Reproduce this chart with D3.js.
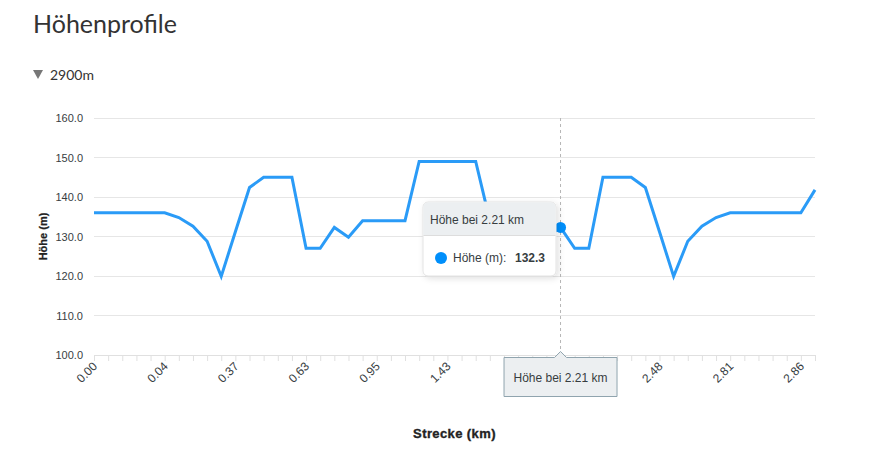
<!DOCTYPE html>
<html><head><meta charset="utf-8">
<script src="https://cdn.jsdelivr.net/npm/d3@7"></script>
<style>
html,body{margin:0;padding:0;background:#fff;}
svg{display:block;}
</style></head>
<body>
<svg id="chart" width="873" height="452"></svg>
<script>
// ---- data ----
const distances = ["0.00","0.01","0.02","0.03","0.03","0.04","0.10","0.17","0.24","0.30",
  "0.37","0.42","0.47","0.53","0.58","0.63","0.69","0.76","0.82","0.89",
  "0.95","1.05","1.14","1.24","1.33","1.43","1.52","1.62","1.71","1.81",
  "1.90","2.01","2.11","2.21","2.25","2.30","2.34","2.39","2.43","2.46",
  "2.48","2.55","2.61","2.68","2.74","2.81","2.82","2.83","2.84","2.85",
  "2.86","2.90"];
const heights = [136,136,136,136,136,136,134.8,132.6,128.8,119.9,
  131.2,142.4,145,145,145,127,127,132.3,129.8,134,
  134,134,134,149,149,149,149,149,134,134,
  134,134,129.8,132.3,127,127,145,145,145,142.4,
  131.2,119.9,128.8,132.6,134.8,136,136,136,136,136,
  136,141.8];
const yTicks = [100,110,120,130,140,150,160];
const labelEvery = 5;
const hoverIndex = 33;
const titleText = "Höhenprofile";
const subText = "2900m";
const seriesName = "Höhe (m)";
const yTitle = "Höhe (m)";
const xTitle = "Strecke (km)";

// ---- drawing ----
const svg = d3.select("#chart");
const m = {left:94, right:815, top:118, bottom:355};
const x = d3.scalePoint().domain(d3.range(distances.length)).range([m.left, m.right]);
const y = d3.scaleLinear().domain([100,160]).range([m.bottom, m.top]);
const font = "'Liberation Sans', Arial, Helvetica, sans-serif";
const hx = x(hoverIndex);
const bx = hx-57, by = 357, bw = 114, bh = 40;

svg.append("text").attr("x",33).attr("y",33).attr("font-family","Lato, sans-serif")
  .attr("font-size",25).attr("fill","#333").text(titleText);
svg.append("path").attr("d","M33,70 L43,70 L38,79 Z").attr("fill","#777");
svg.append("text").attr("x",50).attr("y",80).attr("font-family","Lato, sans-serif")
  .attr("font-size",14).attr("fill","#333").text(subText);

// gridlines
svg.append("g").selectAll("line").data(yTicks).join("line")
  .attr("x1",m.left).attr("x2",m.right).attr("y1",d=>y(d)).attr("y2",d=>y(d))
  .attr("stroke","#e6e6e6").attr("stroke-width",1).attr("shape-rendering","crispEdges");

// y axis
const yAxis = d3.axisLeft(y).tickValues(yTicks).tickFormat(d3.format(".1f")).tickSize(0).tickPadding(11);
const gy = svg.append("g").attr("transform",`translate(${m.left},0)`).call(yAxis);
gy.select(".domain").remove();
gy.selectAll("text").attr("font-family",font).attr("font-size",11).attr("fill","#373d3f");

// x axis
const xAxis = d3.axisBottom(x).tickSize(6).tickFormat(()=> "");
const gx = svg.append("g").attr("transform",`translate(0,${m.bottom})`).call(xAxis);
gx.select(".domain").attr("stroke","#e0e0e0").attr("d",`M${m.left},0.5H${m.right}`);
gx.selectAll(".tick line").attr("stroke","#e0e0e0");
svg.append("g").selectAll("text")
  .data(d3.range(0,distances.length,labelEvery).filter(i => x(i) < bx || x(i) > bx+bw+4))
  .join("text")
  .attr("transform",d=>`translate(${x(d)+4},${m.bottom+12}) rotate(-45)`)
  .attr("text-anchor","end").attr("font-family",font).attr("font-size",12).attr("fill","#373d3f")
  .text(d=>distances[d]);

// axis titles
svg.append("text").attr("transform",`translate(47,${(m.top+m.bottom)/2}) rotate(-90)`)
  .attr("text-anchor","middle").attr("font-family",font).attr("font-size",11).attr("font-weight","bold")
  .attr("fill","#222").attr("stroke","#222").attr("stroke-width",0.25).text(yTitle);
svg.append("text").attr("x",(m.left+m.right)/2).attr("y",438).attr("text-anchor","middle")
  .attr("font-family",font).attr("font-size",13).attr("font-weight","bold").attr("letter-spacing",0.4)
  .attr("fill","#222").attr("stroke","#222").attr("stroke-width",0.35).text(xTitle);

// crosshair
svg.append("line").attr("x1",hx).attr("x2",hx).attr("y1",m.top).attr("y2",m.bottom)
  .attr("stroke","#b6b6b6").attr("stroke-dasharray","3,3").attr("stroke-width",1);

// line
const line = d3.line().x((d,i)=>x(i)).y(d=>y(d));
svg.append("path").datum(heights).attr("d",line).attr("fill","none")
  .attr("stroke","#2a9bf7").attr("stroke-width",3).attr("stroke-linejoin","miter");

// marker
svg.append("circle").attr("cx",hx).attr("cy",y(heights[hoverIndex])).attr("r",5.5).attr("fill","#008ffb");

// tooltip
const defs = svg.append("defs");
const f = defs.append("filter").attr("id","sh").attr("x","-20%").attr("y","-20%").attr("width","140%").attr("height","140%");
f.append("feDropShadow").attr("dx",2).attr("dy",2).attr("stdDeviation",3).attr("flood-color","#000").attr("flood-opacity",0.12);
const tx = 423, ty = 202, tw = 133, th = 74;
const tt = svg.append("g");
tt.append("rect").attr("x",tx).attr("y",ty).attr("width",tw).attr("height",th).attr("rx",5)
  .attr("fill","#fff").attr("stroke","#e3e3e3").attr("filter","url(#sh)");
tt.append("path").attr("d",`M${tx+0.5},${ty+33} V${ty+5} Q${tx+0.5},${ty+0.5} ${tx+5},${ty+0.5} H${tx+tw-5} Q${tx+tw-0.5},${ty+0.5} ${tx+tw-0.5},${ty+5} V${ty+33} Z`)
  .attr("fill","#eceff1");
tt.append("line").attr("x1",tx+0.5).attr("x2",tx+tw-0.5).attr("y1",ty+33.5).attr("y2",ty+33.5).attr("stroke","#ddd");
tt.append("text").attr("x",tx+7).attr("y",ty+22).attr("font-family",font).attr("font-size",12).attr("fill","#373d3f")
  .text(`Höhe bei ${distances[hoverIndex]} km`);
tt.append("circle").attr("cx",tx+18).attr("cy",ty+56).attr("r",6).attr("fill","#008ffb");
tt.append("text").attr("x",tx+30).attr("y",ty+60).attr("font-family",font).attr("font-size",12).attr("fill","#373d3f")
  .text(seriesName + ":");
tt.append("text").attr("x",tx+92).attr("y",ty+60).attr("font-family",font).attr("font-size",12).attr("font-weight","bold").attr("fill","#373d3f")
  .text(heights[hoverIndex].toFixed(1));

// x-axis tooltip
svg.append("path").attr("d",`M${bx+0.5},${by+0.5} H${hx-6} L${hx},${by-5.5} L${hx+6},${by+0.5} H${bx+bw-0.5} V${by+bh-0.5} H${bx+0.5} Z`)
  .attr("fill","#eceff1").attr("stroke","#90a4ae").attr("stroke-linejoin","round");
svg.append("text").attr("x",hx).attr("y",by+25).attr("text-anchor","middle").attr("font-family",font)
  .attr("font-size",12).attr("fill","#373d3f").text(`Höhe bei ${distances[hoverIndex]} km`);
</script>
</body></html>
